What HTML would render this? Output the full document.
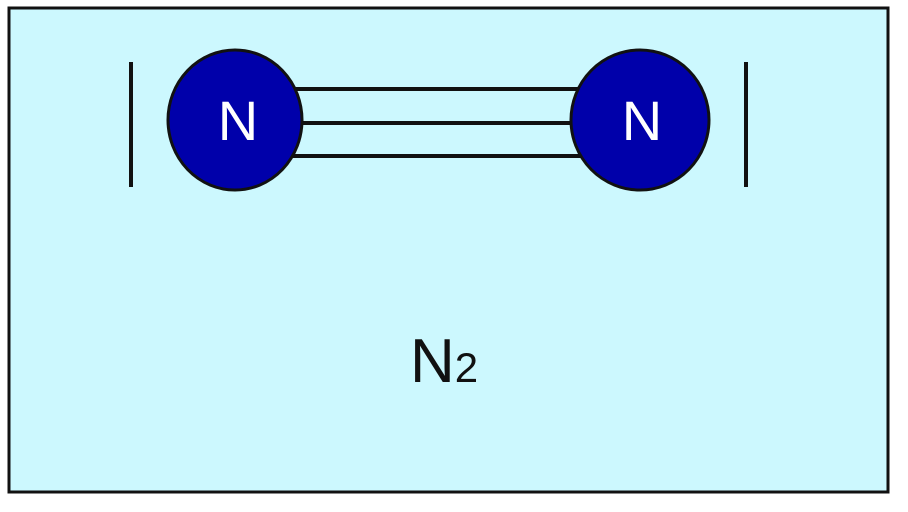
<!DOCTYPE html>
<html><head><style>html,body{margin:0;padding:0;background:#fff;}svg{display:block}</style></head>
<body>
<svg width="908" height="512" viewBox="0 0 908 512" xmlns="http://www.w3.org/2000/svg">
<rect x="9" y="8" width="879" height="484" fill="#ccf8fe" stroke="#111" stroke-width="3"/>
<line x1="131" y1="62" x2="131" y2="187" stroke="#111" stroke-width="4"/>
<line x1="746" y1="62" x2="746" y2="187" stroke="#111" stroke-width="4"/>
<line x1="290" y1="89" x2="585" y2="89" stroke="#111" stroke-width="4"/>
<line x1="290" y1="123" x2="585" y2="123" stroke="#111" stroke-width="4"/>
<line x1="290" y1="156" x2="585" y2="156" stroke="#111" stroke-width="4"/>
<ellipse cx="235" cy="120" rx="67" ry="70" fill="#0000aa" stroke="#111" stroke-width="3"/>
<ellipse cx="640" cy="120" rx="69" ry="70" fill="#0000aa" stroke="#111" stroke-width="3"/>
<text x="238" y="140" font-family="Liberation Sans, sans-serif" font-size="56" fill="#fff" text-anchor="middle">N</text>
<text x="642" y="140" font-family="Liberation Sans, sans-serif" font-size="56" fill="#fff" text-anchor="middle">N</text>
<text x="410" y="382" font-family="Liberation Sans, sans-serif" font-size="62" fill="#111">N<tspan font-size="42">2</tspan></text>
</svg>
</body></html>
